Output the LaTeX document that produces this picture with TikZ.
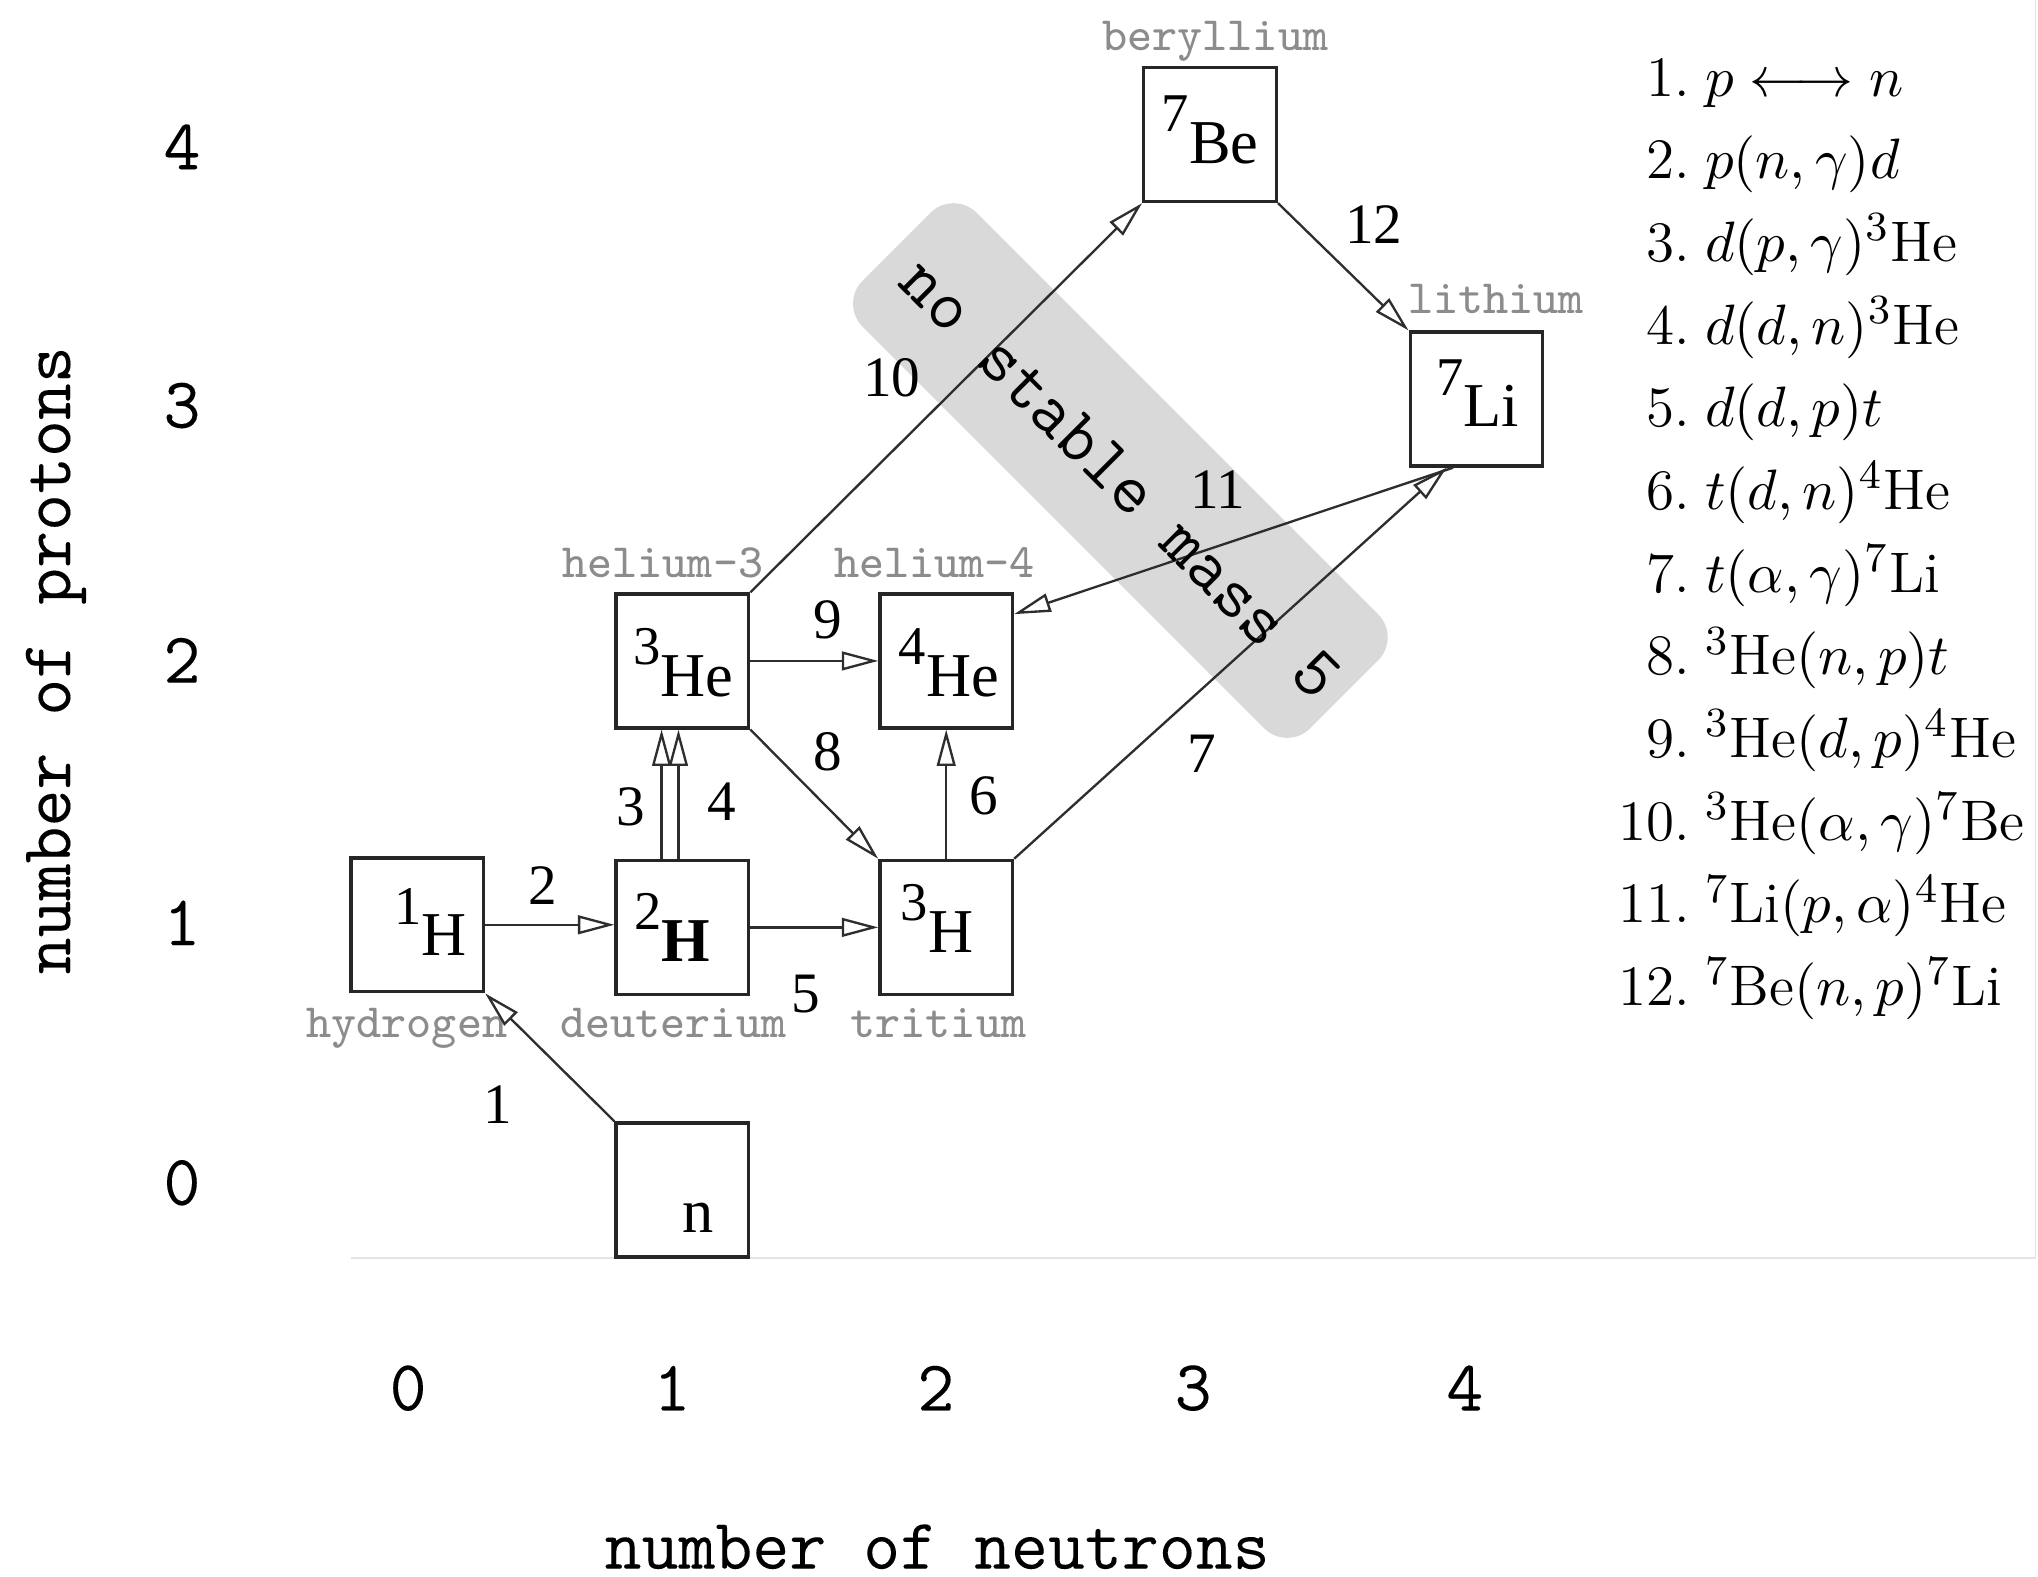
\documentclass[tikz,border=0pt]{standalone}
\usepackage{fontspec}
\usetikzlibrary{arrows.meta,calc}
\newfontfamily\isofont{Liberation Serif}
\newfontfamily\monofont[FakeBold=0.08]{Latin Modern Mono}
\newfontfamily\bandmono{Latin Modern Mono}
\newfontfamily\graymono{Latin Modern Mono}
\definecolor{bandgray}{HTML}{D9D9D9}
\definecolor{namegray}{HTML}{8C8C8C}
\definecolor{linegray}{HTML}{2E2E2E}
\definecolor{framegray}{HTML}{E4E4E4}
\newcommand\isotope[2]{\raisebox{6pt}{\fontsize{10.5}{10.5}\selectfont #1}#2}
\begin{document}
\begin{tikzpicture}[x=0.25pt,y=-0.25pt,
  box/.style={draw=black!85, line width=0.65pt, minimum width=25.5pt, minimum height=25.75pt, inner sep=0pt, fill=white},
  iso/.style={font=\isofont\fontsize{12}{12}\selectfont, anchor=base, inner sep=0pt},
  elemname/.style={font=\graymono\fontsize{9.2}{9.2}\selectfont, text=namegray, anchor=base, inner sep=0pt},
  rx/.style={draw=linegray, line width=0.45pt, -{Triangle[open, length=7pt, width=3.6pt]}},
  rnum/.style={font=\isofont\fontsize{11}{11}\selectfont, inner sep=0pt},
  axislabel/.style={font=\monofont\fontsize{13.8}{13.8}\selectfont, inner sep=0pt},
  bandlabel/.style={font=\bandmono\fontsize{13.8}{13.8}\selectfont, inner sep=0pt},
  legnum/.style={anchor=base east, inner sep=0pt, font=\fontsize{11}{13}\selectfont},
  legtext/.style={anchor=base west, inner sep=0pt, font=\fontsize{11}{13}\selectfont},
]
\fill[white] (0,0) rectangle (1568,1213);
\useasboundingbox (0,0) rectangle (1568,1213);

% faint frame of the original figure
\draw[framegray, line width=0.3pt] (270,968) -- (1566,968) -- (1566,0);

% band
\node[fill=bandgray, rounded corners=6.25pt, minimum width=121.75pt, minimum height=31pt, rotate=-45, inner sep=0pt] (band) at (862,362) {};

% boxes
\node[box] (H1) at (321,711.5) {};
\node[box] (H2) at (525,713.5) {};
\node[box] (H3) at (728,713.5) {};
\node[box] (He3) at (525,508.5) {};
\node[box] (He4) at (728,508.5) {};
\node[box] (nn) at (525,915.5) {};
\node[box] (Be7) at (931,103.5) {};
\node[box] (Li7) at (1136,307) {};

\node[iso] (H1t) at ($(H1.center)+(10,24)$) {\isotope{1}{H}};
\node[iso] (H2t) at ($(H2.center)+(-8,26)$) {\isotope{2}{\bfseries H}};
\node[iso] (H3t) at ($(H3.center)+(-7,19)$) {\isotope{3}{H}};
\node[iso] (He3t) at ($(He3.center)+(1,27)$) {\isotope{3}{He}};
\node[iso] (He4t) at ($(He4.center)+(2,27)$) {\isotope{4}{He}};
\node[iso] (nt) at ($(nn.center)+(12,33)$) {n};
\node[iso] (Be7t) at ($(Be7.center)+(0,22)$) {\isotope{7}{Be}};
\node[iso] (Li7t) at ($(Li7.center)+(1,21)$) {\isotope{7}{Li}};

% names
\node[elemname] (lH1) at (313,798) {hydrogen};
\node[elemname] (lH2) at (518,798) {deuterium};
\node[elemname] (lH3) at (722,798) {tritium};
\node[elemname] (lHe3) at (510,444) {helium-3};
\node[elemname] (lHe4) at (719,444) {helium-4};
\node[elemname] (lBe7) at (935,39) {beryllium};
\node[elemname] (lLi7) at (1151,241) {lithium};

% connector end points
\coordinate (a3s) at ($(H2.north)+(-16,0)$);
\coordinate (a3e) at ($(He3.south)+(-16,0)$);
\coordinate (a4s) at ($(H2.north)+(-3,0)$);
\coordinate (a4e) at ($(He3.south)+(-3,0)$);
\coordinate (Li7in) at ($(Li7.south)+(-23,0)$);
\coordinate (Li7out) at ($(Li7.south)+(-18,0)$);
\coordinate (He4in) at ($(He4.east)+(0,-36)$);

% reactions
\draw[rx] (nn.north west) -- (H1.south east);
\draw[rx] (H1.east) -- (H1.east -| H2.west);
\draw[rx] (a3s) -- (a3e);
\draw[rx] (a4s) -- (a4e);
\draw[rx] (H2.east) -- (H2.east -| H3.west);
\draw[rx] (H3.north) -- (He4.south);
\draw[rx] (H3.north east) -- (Li7in);
\draw[rx] (He3.south east) -- (H3.north west);
\draw[rx] (He3.east) -- (He4.west);
\draw[rx] (He3.north east) -- (Be7.south west);
\draw[rx] (Li7out) -- (He4in);
\draw[rx] (Be7.south east) -- (Li7.north west);

% reaction numbers
\node[rnum] (r1) at (383,850) {1};
\node[rnum] (r2) at (418,681) {2};
\node[rnum] (r3) at (485,621) {3};
\node[rnum] (r4) at (555,617) {4};
\node[rnum] (r5) at (620,765) {5};
\node[rnum] (r6) at (757,612) {6};
\node[rnum] (r7) at (925,580) {7};
\node[rnum] (r8) at (637,578) {8};
\node[rnum] (r9) at (637,477) {9};
\node[rnum] (r10) at (686,291) {10};
\node[rnum] (r11) at (937,377) {11};
\node[rnum] (r12) at (1057,173) {12};

% band text
\node[bandlabel, rotate=-45] (bandtext) at (862,368) {no stable mass 5};

% axes
\node[axislabel, rotate=90] (ylab) at (43,508) {number of protons};
\node[axislabel] (xlab) at (721,1190) {number of neutrons};
\node[axislabel] (y4) at (140,113) {4};
\node[axislabel] (y3) at (140,312) {3};
\node[axislabel] (y2) at (140,508) {2};
\node[axislabel] (y1) at (140,710) {1};
\node[axislabel] (y0) at (140,910) {0};
\node[axislabel] (x0) at (314,1068) {0};
\node[axislabel] (x1) at (517,1068) {1};
\node[axislabel] (x2) at (720,1068) {2};
\node[axislabel] (x3) at (918,1068) {3};
\node[axislabel] (x4) at (1127,1068) {4};

% legend
\node[legnum] (n1) at (1301,74) {1.};
\node[legtext] (t1) at (1311,74) {$p \longleftrightarrow n$};
\node[legnum] (n2) at (1301,137.6) {2.};
\node[legtext] (t2) at (1311,137.6) {$p(n,\gamma)d$};
\node[legnum] (n3) at (1301,201.2) {3.};
\node[legtext] (t3) at (1311,201.2) {$d(p,\gamma)^3\mathrm{He}$};
\node[legnum] (n4) at (1301,264.8) {4.};
\node[legtext] (t4) at (1311,264.8) {$d(d,n)^3\mathrm{He}$};
\node[legnum] (n5) at (1301,328.4) {5.};
\node[legtext] (t5) at (1311,328.4) {$d(d,p)t$};
\node[legnum] (n6) at (1301,392) {6.};
\node[legtext] (t6) at (1311,392) {$t(d,n)^4\mathrm{He}$};
\node[legnum] (n7) at (1301,455.6) {7.};
\node[legtext] (t7) at (1311,455.6) {$t(\alpha,\gamma)^7\mathrm{Li}$};
\node[legnum] (n8) at (1301,519.2) {8.};
\node[legtext] (t8) at (1311,519.2) {$^3\mathrm{He}(n,p)t$};
\node[legnum] (n9) at (1301,582.8) {9.};
\node[legtext] (t9) at (1311,582.8) {$^3\mathrm{He}(d,p)^4\mathrm{He}$};
\node[legnum] (n10) at (1301,646.4) {10.};
\node[legtext] (t10) at (1311,646.4) {$^3\mathrm{He}(\alpha,\gamma)^7\mathrm{Be}$};
\node[legnum] (n11) at (1301,710) {11.};
\node[legtext] (t11) at (1311,710) {$^7\mathrm{Li}(p,\alpha)^4\mathrm{He}$};
\node[legnum] (n12) at (1301,773.6) {12.};
\node[legtext] (t12) at (1311,773.6) {$^7\mathrm{Be}(n,p)^7\mathrm{Li}$};
\end{tikzpicture}
\end{document}
